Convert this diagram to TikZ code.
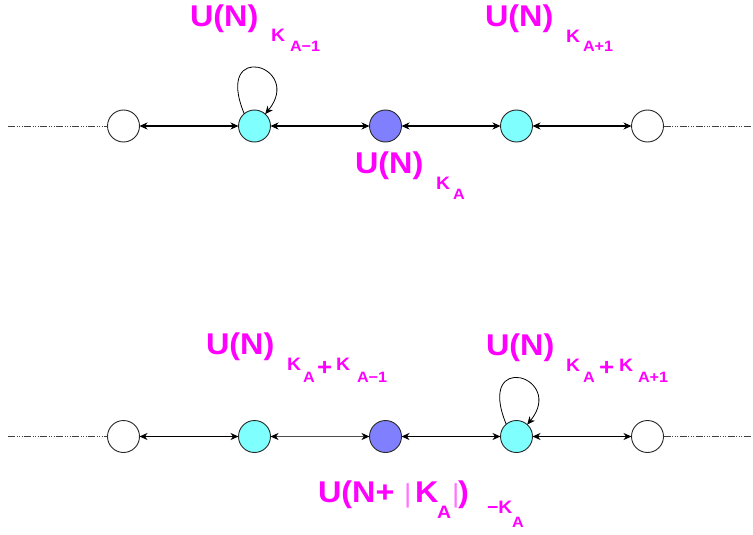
\documentclass[tikz,border=0pt]{standalone}
\usepackage{fontspec}
\setmainfont{Liberation Sans}[FakeStretch=1.08]
\usetikzlibrary{arrows.meta}
\definecolor{mag}{RGB}{255,0,255}
\definecolor{cyanfill}{RGB}{128,255,255}
\definecolor{bluefill}{RGB}{128,128,255}
\definecolor{rim}{RGB}{40,40,40}
\tikzset{
  site/.style={circle, draw=rim, line width=0.9pt, minimum size=32pt, inner sep=0pt, outer sep=0pt},
  whitesite/.style={site, fill=white},
  cyansite/.style={site, fill=cyanfill},
  bluesite/.style={site, fill=bluefill},
  link/.style={{Stealth[length=8pt,width=7pt,inset=2.5pt,color=black]}-{Stealth[length=8pt,width=7pt,inset=2.5pt,color=black]}, line width=1.1pt, black},
  thinlink/.style={link, line width=0.7pt, draw=black!70},
  selfloop/.style={-{Stealth[length=8pt,width=7pt,inset=2.5pt,color=black]}, line width=0.8pt, black},
  tail/.style={draw=black!75, line width=0.9pt, dash pattern=on 7pt off 1.5pt on 1pt off 1.5pt on 1pt off 1.5pt on 1pt off 1.5pt},
  lab/.style={text=mag, inner sep=0pt, outer sep=0pt, anchor=base west},
  lbig/.style={lab, font=\fontsize{30}{30}\selectfont\bfseries},
  lplus/.style={lab, font=\fontsize{24}{24}\selectfont\bfseries},
  lmid/.style={lab, font=\fontsize{18}{18}\selectfont\bfseries},
  lsml/.style={lab, font=\fontsize{15}{15}\selectfont\bfseries},
  lbar/.style={lab, text=mag!55, font=\fontsize{26}{26}\selectfont},
}
\begin{document}
\begin{tikzpicture}[x=1pt,y=-1pt]
\useasboundingbox (0,0) rectangle (753,535);

% ---------- top row ----------
\node[whitesite] (a1) at (123.5,126) {};
\node[cyansite]  (a2) at (254.5,126) {};
\node[bluesite]  (a3) at (385.5,126) {};
\node[cyansite]  (a4) at (516.5,126) {};
\node[whitesite] (a5) at (647.5,126) {};
\coordinate (ta) at (8,126);
\coordinate (tb) at (752,126);
\draw[tail] (ta) -- (a1);
\draw[tail] (a5) -- (tb);
\draw[link] (a1) -- (a2);
\draw[link] (a2) -- (a3);
\draw[link] (a3) -- (a4);
\draw[link] (a4) -- (a5);
\draw[selfloop] (a2.130) .. controls +(-31,-75) and +(39,-48) .. (a2.48);

% ---------- bottom row ----------
\node[whitesite] (b1) at (123.5,436.5) {};
\node[cyansite]  (b2) at (254.5,436.5) {};
\node[bluesite]  (b3) at (385.5,436.5) {};
\node[cyansite]  (b4) at (516.5,436.5) {};
\node[whitesite] (b5) at (647.5,436.5) {};
\coordinate (tc) at (8,436.5);
\coordinate (td) at (752,436.5);
\draw[tail] (tc) -- (b1);
\draw[tail] (b5) -- (td);
\draw[link] (b1) -- (b2);
\draw[thinlink] (b2) -- (b3);
\draw[link] (b3) -- (b4);
\draw[link] (b4) -- (b5);
\draw[selfloop] (b4.130) .. controls +(-31,-75) and +(39,-48) .. (b4.48);

% ---------- labels, top ----------
\node[lbig] (t1u) at (190,27) {U(N)};
\node[lmid] (t1k) at (271,42) {K};
\node[lsml] (t1a) at (290,52) {A−1};

\node[lbig] (t2u) at (485,27) {U(N)};
\node[lmid] (t2k) at (566,43) {K};
\node[lsml] (t2a) at (583,52) {A+1};

\node[lbig] (t3u) at (355,173) {U(N)};
\node[lmid] (t3k) at (436,189) {K};
\node[lsml] (t3a) at (453,199) {A};

% ---------- labels, bottom ----------
\node[lbig] (b1u) at (206,354) {U(N)};
\node[lmid] (b1k) at (287,370) {K};
\node[lsml] (b1a) at (303,382) {A};
\node[lplus] (b1p) at (317,375) {+};
\node[lmid] (b1q) at (336,370) {K};
\node[lsml] (b1b) at (357,382) {A−1};

\node[lbig] (b2u) at (486,355) {U(N)};
\node[lmid] (b2k) at (566,371) {K};
\node[lsml] (b2a) at (583,382) {A};
\node[lplus] (b2p) at (599,375) {+};
\node[lmid] (b2q) at (619,371) {K};
\node[lsml] (b2b) at (638,382) {A+1};

\node[lbig] (b3u) at (318,502) {U(N+};
\node[lbar] (b3l) at (404,502) {|};
\node[lbig] (b3k) at (415,502) {K};
\node[lmid] (b3a) at (437,518) {A};
\node[lbar] (b3r) at (452,502) {|};
\node[lbig] (b3c) at (458,502) {)};
\node[lmid] (b3m) at (487,513) {−K};
\node[lsml] (b3s) at (512,527) {A};
\end{tikzpicture}
\end{document}
